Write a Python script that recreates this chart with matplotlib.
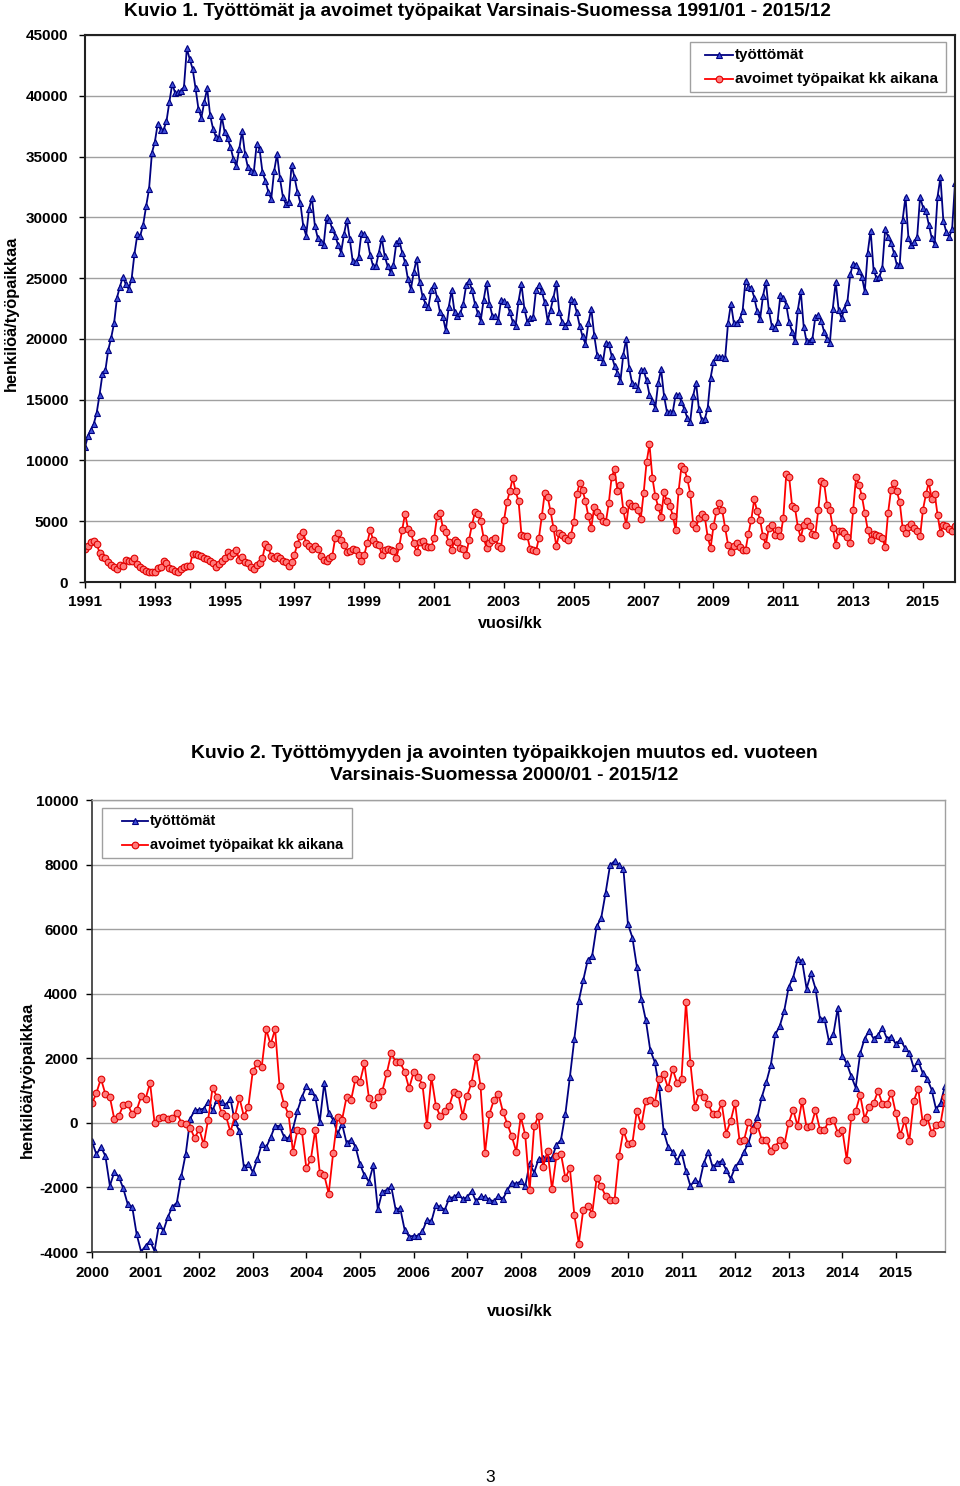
import matplotlib
matplotlib.use("Agg")
import matplotlib.pyplot as plt
from matplotlib.lines import Line2D
from matplotlib.patches import Rectangle
import numpy as np

plt.rcParams['font.family'] = ['Liberation Sans', 'DejaVu Sans']

# ---------------- Chart 1 data: 1991/01 - 2015/12 (monthly) ----------------
years_1 = list(range(1991, 2016))
tyottomat_1 = [
    11100, 12000, 12500, 13000, 13900, 15400, 17100, 17400, 19100, 20100, 21300, 23400,  # 1991
    24300, 25100, 24500, 24100, 24900, 27000, 28600, 28500, 29400, 30900, 32300, 35300,  # 1992
    36200, 37700, 37200, 37200, 37900, 39500, 41000, 40200, 40300, 40400, 40700, 43900,  # 1993
    43000, 42200, 40600, 38900, 38200, 39500, 40600, 38400, 37300, 36600, 36500, 38300,  # 1994
    37000, 36500, 35800, 34800, 34200, 35600, 37100, 35200, 34100, 33800, 33700, 36000,  # 1995
    35600, 33700, 33000, 32100, 31500, 33800, 35200, 33200, 31700, 31100, 31300, 34300,  # 1996
    33300, 32100, 31200, 29300, 28500, 30700, 31600, 29300, 28300, 28000, 27700, 30000,  # 1997
    29800, 29000, 28500, 27700, 27100, 28600, 29800, 28200, 26400, 26300, 26700, 28700,  # 1998
    28600, 28200, 26900, 26000, 26000, 27100, 28300, 26800, 26000, 25500, 26100, 27900,  # 1999
    28100, 27100, 26300, 24900, 24100, 25500, 26600, 24700, 23500, 22900, 22600, 24000,  # 2000
    24400, 23400, 22200, 21800, 20700, 22600, 24000, 22200, 21900, 22100, 22900, 24400,  # 2001
    24800, 24000, 22900, 22100, 21500, 23200, 24600, 22900, 21900, 21900, 21500, 23200,  # 2002
    23100, 22900, 22200, 21400, 21100, 23100, 24500, 22500, 21400, 21700, 21800, 24000,  # 2003
    24400, 23900, 23000, 21500, 22400, 23400, 24600, 22200, 21400, 21100, 21400, 23300,  # 2004
    23100, 22200, 21100, 20200, 19600, 21300, 22500, 20300, 18700, 18500, 18100, 19700,  # 2005
    19600, 18600, 17800, 17200, 16500, 18700, 20000, 17600, 16400, 16200, 15900, 17400,  # 2006
    17400, 16600, 15400, 14900, 14300, 16400, 17500, 15300, 14000, 14000, 14000, 15400,  # 2007
    15400, 14800, 14200, 13500, 13200, 15300, 16400, 14200, 13300, 13400, 14300, 16800,  # 2008
    18100, 18500, 18500, 18500, 18400, 21300, 22900, 21300, 21300, 21600, 22300, 24800,  # 2009
    24300, 24200, 23400, 22300, 21600, 23500, 24700, 22400, 21100, 20900, 21400, 23600,  # 2010
    23400, 22800, 21400, 20600, 19800, 22400, 23900, 21000, 19800, 19800, 20000, 21800,  # 2011
    22000, 21500, 20600, 20000, 19700, 22500, 24700, 22400, 21700, 22500, 23000, 25300,  # 2012
    26200, 26100, 25600, 25100, 23900, 27100, 28900, 25700, 25000, 25100, 25800, 29000,  # 2013
    28400, 27900, 27100, 26100, 26100, 29800, 31700, 28300, 27700, 28000, 28400, 31700,  # 2014
    30800, 30500, 29400, 28300, 27800, 31700, 33300, 29700, 28800, 28400, 29000, 32800,  # 2015
]
avoimet_1 = [
    2710, 3000, 3290, 3380, 3150, 2410, 2030, 1970, 1620, 1380, 1240, 1090,  # 1991
    1380, 1320, 1820, 1740, 1740, 1970, 1440, 1240, 1090, 940, 850, 790,     # 1992
    790, 1150, 1240, 1740, 1530, 1150, 1090, 940, 850, 1090, 1240, 1320,     # 1993
    1320, 2320, 2320, 2210, 2120, 1970, 1910, 1740, 1530, 1240, 1440, 1740,  # 1994
    1970, 2500, 2120, 2410, 2620, 1820, 2030, 1680, 1530, 1240, 1030, 1380,  # 1995
    1530, 1970, 3150, 2910, 2120, 1970, 2120, 1970, 1740, 1680, 1320, 1680,  # 1996
    2260, 3150, 3760, 4090, 3210, 2940, 2720, 2990, 2720, 2170, 1840, 1700,  # 1997
    1980, 2170, 3630, 4040, 3490, 3080, 2440, 2530, 2720, 2610, 2250, 1700,  # 1998
    2250, 3210, 4260, 3490, 3160, 3080, 2250, 2660, 2720, 2660, 2530, 1980,  # 1999
    2940, 4310, 5630, 4370, 4040, 3210, 2440, 3270, 3350, 2940, 2880, 2880,  # 2000
    3630, 5410, 5690, 4450, 4090, 3270, 2610, 3490, 3270, 2800, 2720, 2250,  # 2001
    3490, 4720, 5740, 5630, 5000, 3630, 2800, 3210, 3490, 3630, 2990, 2800,  # 2002
    5080, 6570, 7470, 8570, 7470, 6650, 3900, 3820, 3760, 2720, 2660, 2530,  # 2003
    3630, 5410, 7330, 7000, 5820, 4450, 2940, 4040, 3900, 3630, 3490, 3900,  # 2004
    4920, 7200, 8160, 7550, 6650, 5410, 4450, 6180, 5740, 5410, 5000, 4920,  # 2005
    6460, 8650, 9260, 7470, 8020, 5910, 4720, 6510, 6290, 6240, 5910, 5190,  # 2006
    7330, 9860, 11320, 8570, 7060, 6180, 5360, 7390, 6650, 6290, 5470, 4260, # 2007
    7470, 9530, 9260, 8490, 7280, 4810, 4450, 5270, 5630, 5360, 3710, 2800,  # 2008
    4590, 5820, 6460, 5910, 4450, 3080, 2450, 3000, 3210, 2900, 2660, 2610,  # 2009
    3980, 5140, 6790, 5820, 5140, 3760, 3080, 4450, 4720, 3900, 4310, 3760,  # 2010
    5270, 8850, 8650, 6290, 6100, 4530, 3630, 4720, 5000, 4640, 3980, 3900,  # 2011
    5910, 8300, 8160, 6370, 5910, 4450, 3080, 4180, 4180, 4040, 3710, 3210,  # 2012
    5910, 8650, 8020, 7060, 5690, 4310, 3490, 3980, 3900, 3820, 3630, 2880,  # 2013
    5690, 7550, 8160, 7470, 6570, 4450, 4040, 4530, 4810, 4450, 4180, 3760,  # 2014
    5960, 7200, 8210, 6840, 7280, 5550, 4040, 4720, 4590, 4370, 4180, 4590,  # 2015
]

# ---------------- Chart 2 data: change from previous year, 2000/01 - 2015/12 ----------------
years_2 = list(range(2000, 2016))
tyottomat_2 = [
    -570, -980, -740, -1030, -1950, -1520, -1670, -2030, -2520, -2600, -3450, -3990,  # 2000
    -3810, -3660, -3970, -3150, -3340, -2910, -2600, -2470, -1650, -950, 130, 390,     # 2001
    410, 440, 650, 390, 720, 650, 550, 750, 30, -260, -1360, -1280,                    # 2002
    -1520, -1130, -660, -760, -450, -90, -100, -430, -480, -180, 370, 800,             # 2003
    1130, 990, 800, 30, 1240, 290, 100, -330, -40, -620, -520, -740,                   # 2004
    -1280, -1620, -1820, -1310, -2680, -2130, -2080, -1970, -2690, -2640, -3310, -3520,  # 2005
    -3500, -3500, -3360, -3000, -3050, -2540, -2610, -2690, -2330, -2300, -2200, -2360,  # 2006
    -2300, -2120, -2430, -2280, -2300, -2380, -2430, -2260, -2360, -2090, -1850, -1890,  # 2007
    -1810, -1970, -1250, -1540, -1120, -1090, -1090, -1090, -680, -530, 280, 1410,     # 2008
    2590, 3780, 4420, 5040, 5180, 6090, 6330, 7120, 7980, 8110, 7980, 7850,            # 2009
    6160, 5740, 4840, 3840, 3190, 2250, 1890, 1100, -260, -740, -900, -1180,           # 2010
    -900, -1490, -1960, -1760, -1860, -1240, -900, -1380, -1240, -1180, -1450, -1730,  # 2011
    -1380, -1180, -900, -620, -140, 170, 810, 1270, 1790, 2740, 3000, 3470,            # 2012
    4210, 4500, 5060, 5020, 4160, 4630, 4160, 3230, 3230, 2540, 2740, 3570,            # 2013
    2070, 1840, 1450, 1090, 2150, 2610, 2850, 2610, 2720, 2950, 2610, 2670,            # 2014
    2440, 2580, 2330, 2170, 1710, 1920, 1550, 1370, 1030, 420, 620, 1140,              # 2015
]
avoimet_2 = [
    600, 930, 1370, 890, 800, 110, 210, 550, 580, 270, 390, 820,                       # 2000
    750, 1240, 10, 160, 190, 130, 160, 310, 10, -40, -150, -480,                       # 2001
    -180, -670, 100, 1090, 800, 310, 210, -280, 210, 780, 210, 490,                    # 2002
    1600, 1840, 1730, 2900, 2430, 2900, 1130, 580, 270, -900, -230, -260,              # 2003
    -1410, -1130, -210, -1540, -1620, -2190, -930, 190, 100, 800, 700, 1370,           # 2004
    1270, 1840, 780, 550, 810, 980, 1540, 2150, 1900, 1870, 1590, 1070,                # 2005
    1560, 1430, 1180, -60, 1430, 530, 200, 380, 530, 970, 900, 220,                    # 2006
    840, 1250, 2030, 1140, -940, 280, 710, 900, 350, -30, -420, -890,                  # 2007
    200, -370, -2090, -110, 220, -1370, -860, -2050, -1020, -960, -1710, -1400,        # 2008
    -2850, -3740, -2690, -2570, -2810, -1710, -1970, -2260, -2400, -2400, -1040, -240, # 2009
    -650, -630, 380, -90, 690, 720, 600, 1370, 1510, 1070, 1680, 1240,                 # 2010
    1370, 3750, 1840, 500, 960, 790, 580, 270, 270, 600, -330, 60,                     # 2011
    620, -560, -540, 30, -210, -70, -540, -520, -870, -740, -520, -690,                # 2012
    0, 410, -100, 680, -140, -100, 390, -210, -210, 60, 100, -310,                     # 2013
    -210, -1140, 170, 370, 860, 130, 500, 600, 990, 580, 580, 930,                     # 2014
    290, -380, 80, -570, 680, 1060, 30, 190, -310, -70, -20, 790,                      # 2015
]

label_blue = "työttömät"
label_red = "avoimet työpaikat kk aikana"

W, H = 960, 1486
fig = plt.figure(figsize=(W / 100, H / 100), dpi=100)
fig.patch.set_facecolor("white")


def ax_rect(l, t, r, b):
    return [l / W, 1 - b / H, (r - l) / W, (b - t) / H]


def fx(px):
    return px / W


def fy(py):
    return 1 - py / H


blue_kw = dict(color="#000080", lw=1.3, marker="^", markersize=4.8,
               markerfacecolor="#3F4FD8", markeredgecolor="#000080", markeredgewidth=0.8)
red_kw = dict(color="#FF0000", lw=1.3, marker="o", markersize=4.8,
              markerfacecolor="#FF7A7A", markeredgecolor="#E00000", markeredgewidth=0.8)

tick_font = dict(fontsize=11, fontweight="bold")


def manual_legend(left, top, right, bottom, line_x0, line_x1, rows_y, fontsize):
    fig.add_artist(Rectangle((fx(left), fy(bottom)), fx(right) - fx(left), fy(top) - fy(bottom),
                             transform=fig.transFigure, facecolor="white",
                             edgecolor="#A0A0A0", lw=1.0, zorder=5))
    for (label, kw), y in zip([(label_blue, blue_kw), (label_red, red_kw)], rows_y):
        fig.add_artist(Line2D([fx(line_x0), fx(line_x1)], [fy(y), fy(y)],
                              transform=fig.transFigure, color=kw["color"], lw=kw["lw"], zorder=6))
        fig.add_artist(Line2D([fx((line_x0 + line_x1) / 2)], [fy(y)],
                              transform=fig.transFigure, linestyle="none",
                              marker=kw["marker"], markersize=kw["markersize"],
                              markerfacecolor=kw["markerfacecolor"],
                              markeredgecolor=kw["markeredgecolor"],
                              markeredgewidth=kw["markeredgewidth"], zorder=7))
        fig.text(fx(line_x1 + 2), fy(y), label, ha="left", va="center",
                 fontsize=fontsize, fontweight="bold", zorder=8)


# ================= Chart 1 =================
ax1 = fig.add_axes(ax_rect(85, 35, 955, 582))
x1 = np.arange(len(tyottomat_1))
ax1.plot(x1, tyottomat_1, label=label_blue, **blue_kw)
ax1.plot(x1, avoimet_1, label=label_red, **red_kw)
ax1.set_xlim(0, len(tyottomat_1) - 1)
ax1.set_ylim(0, 45000)
ax1.set_yticks(np.arange(0, 45001, 5000))
ax1.set_yticklabels([str(v) for v in range(0, 45001, 5000)], **tick_font)
ax1.set_xticks([12 * k for k in range(len(years_1))])
ax1.set_xticklabels([str(y) if (y - years_1[0]) % 2 == 0 else "" for y in years_1], **tick_font)
ax1.grid(axis="y", color="#A0A0A0", lw=1.0)
ax1.set_axisbelow(True)
for s in ax1.spines.values():
    s.set_color("#222222")
    s.set_linewidth(1.5)
ax1.tick_params(axis="y", direction="out", length=4, width=1, pad=8)
ax1.tick_params(axis="x", direction="out", length=4, width=1, pad=5)
manual_legend(690, 42, 946, 92, 705, 733, [55, 79], 11)

fig.text(477 / W, 1 - 11 / H,
         "Kuvio 1. Työttömät ja avoimet työpaikat Varsinais-Suomessa 1991/01 - 2015/12",
         ha="center", va="center", fontsize=13.7, fontweight="bold")
fig.text(11 / W, 1 - 313 / H, "henkilöä/työpaikkaa", rotation=90,
         ha="center", va="center", fontsize=11.8, fontweight="bold")
fig.text(510 / W, 1 - 623 / H, "vuosi/kk", ha="center", va="center",
         fontsize=11.6, fontweight="bold")

# ================= Chart 2 =================
ax2 = fig.add_axes(ax_rect(92, 800, 945, 1252))
x2 = np.arange(len(tyottomat_2))
ax2.plot(x2, tyottomat_2, label=label_blue, **blue_kw)
ax2.plot(x2, avoimet_2, label=label_red, **red_kw)
ax2.set_xlim(0, len(tyottomat_2) - 1)
ax2.set_ylim(-4000, 10000)
ax2.set_yticks(np.arange(-4000, 10001, 2000))
ax2.set_yticklabels([str(v) for v in range(-4000, 10001, 2000)], **tick_font)
ax2.set_xticks([12 * k for k in range(len(years_2))])
ax2.set_xticklabels([str(y) for y in years_2], **tick_font)
ax2.grid(axis="y", color="#A0A0A0", lw=1.0)
ax2.set_axisbelow(True)
for name in ("top", "right"):
    ax2.spines[name].set_color("#A0A0A0")
    ax2.spines[name].set_linewidth(1.0)
for name in ("left", "bottom"):
    ax2.spines[name].set_color("#333333")
    ax2.spines[name].set_linewidth(1.2)
ax2.tick_params(axis="y", direction="out", length=4, width=1, pad=6)
ax2.tick_params(axis="x", direction="out", length=4, width=1, pad=6)
manual_legend(102, 808, 352, 858, 122, 148, [821, 845], 10.5)

fig.text(504 / W, 1 - 753 / H,
         "Kuvio 2. Työttömyyden ja avointen työpaikkojen muutos ed. vuoteen",
         ha="center", va="center", fontsize=13.9, fontweight="bold")
fig.text(504 / W, 1 - 775 / H, "Varsinais-Suomessa 2000/01 - 2015/12",
         ha="center", va="center", fontsize=13.9, fontweight="bold")
fig.text(27 / W, 1 - 1080 / H, "henkilöä/työpaikkaa", rotation=90,
         ha="center", va="center", fontsize=11.9, fontweight="bold")
fig.text(520 / W, 1 - 1311 / H, "vuosi/kk", ha="center", va="center",
         fontsize=11.9, fontweight="bold")

fig.text(490 / W, 1 - 1478 / H, "3", ha="center", va="center", fontsize=12.5)

fig.savefig("out.png", dpi=100, facecolor="white")
